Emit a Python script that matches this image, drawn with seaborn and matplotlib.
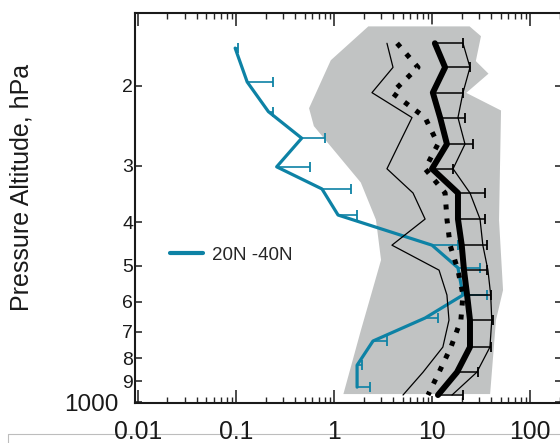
import matplotlib
matplotlib.use("Agg")
import matplotlib.pyplot as plt
import seaborn as sns
from matplotlib.lines import Line2D
from matplotlib.ticker import FixedLocator, FixedFormatter, LogLocator, NullFormatter

# ---- profile data (mixing ratio vs pressure, hPa) ----
levels = [161, 182, 207, 235, 269, 305, 345, 394, 450, 511, 580, 659, 756, 859, 965]
mean_all = [10.7, 13.6, 10.2, 12.1, 14.2, 10.0, 18.4, 18.4, 20.1, 21.2, 22.8, 24.4, 24.4, 18.0, 11.5]
err_top = [20.7, 24.4, 20.7, 21.7, 26.1, 16.4, 34.7, 34.7, 36.1, 36.5, 39.7, 41.6, 39.7, 29.5, 20.7]
upper_all = [20.7, 24.4, 20.7, 18.4, 21.7, 16.4, 24.4, 30.9, 33.0, 37.2, 39.7, 40.7, 39.0, 28.7, 16.0]
median_all = [4.4, 7.2, 3.9, 8.5, 11.5, 8.5, 13.6, 14.2, 15.3, 18.4, 20.7, 19.7, 15.6, 11.8, 9.1]
lower_all = [3.47, 4.0, 2.44, 6.25, 4.6, 3.47, 6.4, 8.5, 3.9, 11.8, 14.2, 14.9, 12.9, 8.1, 5.06]

# 20N-40N profile
lat_levels = [165, 196, 228, 261, 302, 338, 386, 450, 505, 580, 652, 733, 829, 927]
lat_mean = [0.098, 0.13, 0.214, 0.468, 0.26, 0.754, 1.10, 10.0, 18.4, 20.7, 8.5, 2.50, 1.72, 1.72]
lat_err_top = [0.105, 0.237, 0.237, 0.81, 0.569, 1.48, 1.70, 18.4, 30.9, 36.4, 11.5, 3.47, 1.93, 2.33]

# range envelope of all observations
env_right_p = [147, 155, 176, 188, 207, 226, 396, 566, 659, 965]
env_right_x = [24.4, 32.4, 28.7, 39.0, 23.3, 51.8, 49.4, 54.3, 46.0, 40.0]
env_left_p = [965, 693, 580, 485, 396, 328, 246, 224, 175, 147]
env_left_x = [1.21, 1.84, 2.33, 2.95, 2.62, 1.84, 0.61, 0.543, 0.91, 2.22]

x_ticks = [0.01, 0.1, 1, 10, 100]
x_tick_labels = ["0.01", "0.1", "1", "10", "100"]
y_ticks = [200, 300, 400, 500, 600, 700, 800, 900, 1000]
y_tick_labels = ["2", "3", "4", "5", "6", "7", "8", "9", "1000"]

legend_label = "20N -40N"
blue = "#0d82a5"

sns.set_style("white")
plt.rcParams["font.family"] = ["Liberation Sans", "DejaVu Sans"]

fig = plt.figure(figsize=(5.6, 4.43), dpi=100)
ax = fig.add_axes([135 / 560, 1 - 403 / 443, 427 / 560, 390 / 443])

# envelope
ax.fill(env_right_x + env_left_x, env_right_p + env_left_p,
        facecolor="#c1c3c3", edgecolor="white", linewidth=1.4, zorder=1)

# 20N-40N profile with one-sided bars
sns.lineplot(x=lat_mean, y=lat_levels, sort=False, estimator=None,
             color=blue, linewidth=2.3, ax=ax, zorder=3)
ax.hlines(lat_levels, lat_mean, lat_err_top, color=blue, linewidth=1.2, zorder=3)
ax.plot(lat_err_top, lat_levels, linestyle="none", marker="|", markersize=7,
        markeredgewidth=1.3, color=blue, zorder=3)

# all-latitude statistics
sns.lineplot(x=lower_all, y=levels, sort=False, estimator=None,
             color="black", linewidth=0.9, ax=ax, zorder=4)
sns.lineplot(x=upper_all, y=levels, sort=False, estimator=None,
             color="black", linewidth=0.9, ax=ax, zorder=4)
sns.lineplot(x=median_all, y=levels, sort=False, estimator=None,
             color="black", linewidth=3.6, ax=ax, zorder=4,
             linestyle=(0, (1.0, 1.8)), dash_capstyle="butt")
sns.lineplot(x=mean_all, y=levels, sort=False, estimator=None,
             color="black", linewidth=4.3, ax=ax, zorder=5)
ax.hlines(levels, mean_all, err_top, color="black", linewidth=1.1, zorder=5)
ax.plot(err_top, levels, linestyle="none", marker="|", markersize=7,
        markeredgewidth=1.3, color="black", zorder=5)

ax.set_xscale("log")
ax.set_yscale("log")
ax.set_xlim(0.00932, 212)
ax.set_ylim(1005, 138)

ax.xaxis.set_major_locator(FixedLocator(x_ticks))
ax.xaxis.set_major_formatter(FixedFormatter(x_tick_labels))
ax.xaxis.set_minor_locator(LogLocator(base=10, subs=range(2, 10), numticks=20))
ax.xaxis.set_minor_formatter(NullFormatter())
ax.yaxis.set_major_locator(FixedLocator(y_ticks))
ax.yaxis.set_major_formatter(FixedFormatter(y_tick_labels))
ax.yaxis.set_minor_locator(FixedLocator([]))

ax.tick_params(axis="x", which="major", direction="in", top=True, bottom=True,
               length=9.4, width=1.1, labelsize=17.8, pad=12.5, colors="#1a1a1a")
ax.tick_params(axis="x", which="minor", direction="in", top=True, bottom=True,
               length=4.3, width=1.0)
ax.tick_params(axis="y", which="major", direction="in", left=True, right=True,
               length=5, width=1.1, labelsize=14, pad=1.2, colors="#1a1a1a")

for lab in ax.get_yticklabels():
    if lab.get_text() == "1000":
        lab.set_fontsize(17.5)
ax.yaxis.get_major_ticks()[-1].set_pad(12)

for side in ["left", "right", "top", "bottom"]:
    ax.spines[side].set_linewidth(1.5)
    ax.spines[side].set_color("#1a1a1a")

ax.set_xlabel("")
ax.set_ylabel("Pressure Altitude, hPa", fontsize=18, color="#1a1a1a", va="center")
ax.yaxis.set_label_coords((22 - 135) / 427, (403 - 187) / 390)

handle = Line2D([], [], color=blue, linewidth=3.0)
ax.legend(handles=[handle], labels=[legend_label], loc="center left",
          bbox_to_anchor=(170 / 560, 1 - 255 / 443), bbox_transform=fig.transFigure,
          frameon=False, fontsize=13.5, handlelength=1.77, handletextpad=0.48,
          borderpad=0, borderaxespad=0)

# thin rule below the panel
fig.add_artist(Line2D([8 / 560, 1], [1 - 434 / 443, 1 - 434 / 443],
                      transform=fig.transFigure, color="#bdbdbd", linewidth=0.8, zorder=-1))
fig.add_artist(Line2D([8 / 560, 8 / 560], [1 - 434 / 443, 0],
                      transform=fig.transFigure, color="#bdbdbd", linewidth=0.8, zorder=-1))

fig.savefig("out.png", dpi=100)
